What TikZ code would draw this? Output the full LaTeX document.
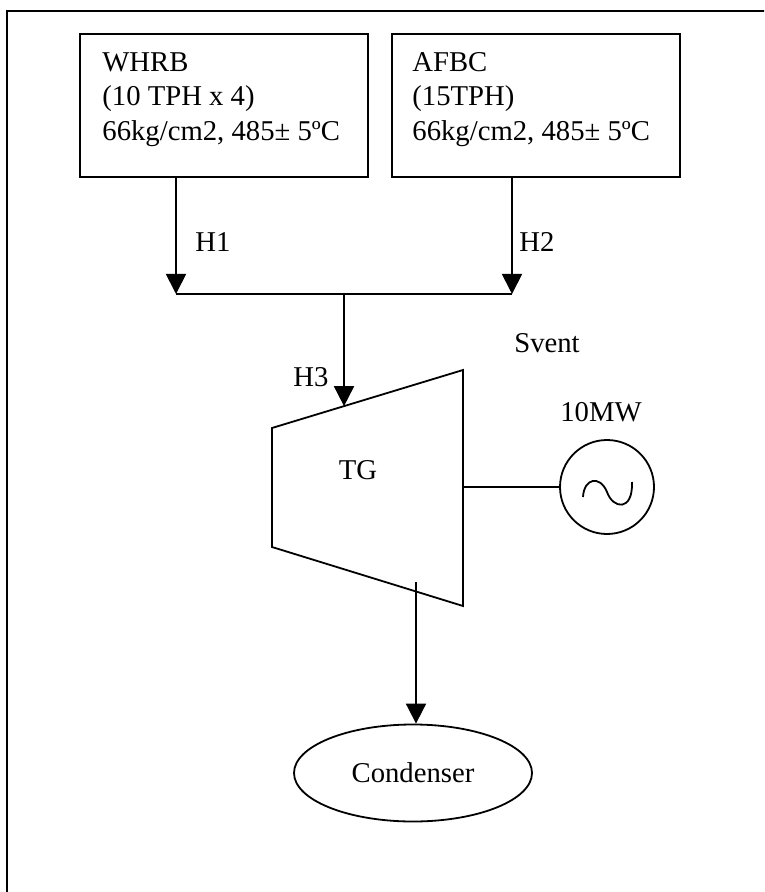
\documentclass[tikz,border=0pt]{standalone}
\usepackage{fontspec}
\setmainfont{Liberation Serif}
\usetikzlibrary{arrows.meta, shapes.geometric, calc}
\tikzset{
  plantbox/.style={draw, line width=0.9pt, minimum width=144pt, minimum height=71.5pt, inner sep=0pt},
  boxtext/.style={align=left, inner sep=0pt, anchor=north west},
  flowline/.style={line width=0.9pt},
  flowarrow/.style={line width=0.9pt, -{Triangle[length=10pt, width=10pt]}},
  streamlabel/.style={inner sep=0pt},
  condbox/.style={ellipse, draw, line width=0.9pt, minimum width=119pt, minimum height=48.5pt, inner sep=0pt},
  genbox/.style={circle, draw, line width=0.9pt, minimum size=47pt, inner sep=0pt},
}

\begin{document}
\begin{tikzpicture}[x=0.5pt, y=-0.5pt, font=\fontsize{14.35}{17.25}\selectfont]
  \useasboundingbox (0,0) rectangle (764,892);
  \clip (0,0) rectangle (764,892);
  % Frame
  \draw[line width=1.2pt] (7,920) -- (7,11) -- (790,11);

  % Boilers
  \node[plantbox] (whrb) at (224,105.5) {};
  \node[boxtext] (whrbtext) at (102,52) {WHRB\\(10 TPH x 4)\\66kg/cm2, 485± 5ºC};
  \node[plantbox] (afbc) at (536,105.5) {};
  \node[boxtext] (afbctext) at (412,52) {AFBC\\(15TPH)\\66kg/cm2, 485± 5ºC};

  % Header
  \coordinate (j1) at (176,294);
  \coordinate (j2) at (512,294);
  \coordinate (j3) at (344,294);
  \draw[flowarrow] (j1 |- whrb.south) -- (j1);
  \draw[flowarrow] (j2 |- afbc.south) -- (j2);
  \draw[flowline] (j1) -- (j2);
  \node[streamlabel] (h1) at (213,242) {H1};
  \node[streamlabel] (h2) at (537,242.5) {H2};

  % Turbine
  \coordinate (tgtl) at (272,428);
  \coordinate (tgtr) at (463,370);
  \coordinate (tgbr) at (463,606);
  \coordinate (tgbl) at (272,547);
  \draw[flowline] (tgtl) -- (tgtr) -- (tgbr) -- (tgbl) -- cycle;
  \node[streamlabel] (tg) at (358,470) {TG};
  \draw[flowarrow] (j3) -- (intersection of j3--{$(j3)+(0,200)$} and tgtl--tgtr);
  \node[streamlabel] (h3) at (311,377) {H3};
  \node[streamlabel] (svent) at (547,343) {Svent};

  % Generator
  \node[genbox] (gen) at (607,487) {};
  \node[streamlabel] (mw) at (601,412) {10MW};
  \draw[flowline] (463,487) -- (gen.west);
  \draw[flowline] ($(gen)+(-24,10)$) .. controls ($(gen)+(-23,-9)$) and ($(gen)+(-7,-12)$) .. ($(gen)+(0,5)$)
    .. controls ($(gen)+(6,22)$) and ($(gen)+(26,25)$) .. ($(gen)+(25,-5)$);

  % Condenser
  \node[condbox] (cond) at (413,773) {Condenser};
  \coordinate (tgout) at (416,582);
  \draw[flowarrow] (tgout) -- (tgout |- cond.north);
\end{tikzpicture}
\end{document}
